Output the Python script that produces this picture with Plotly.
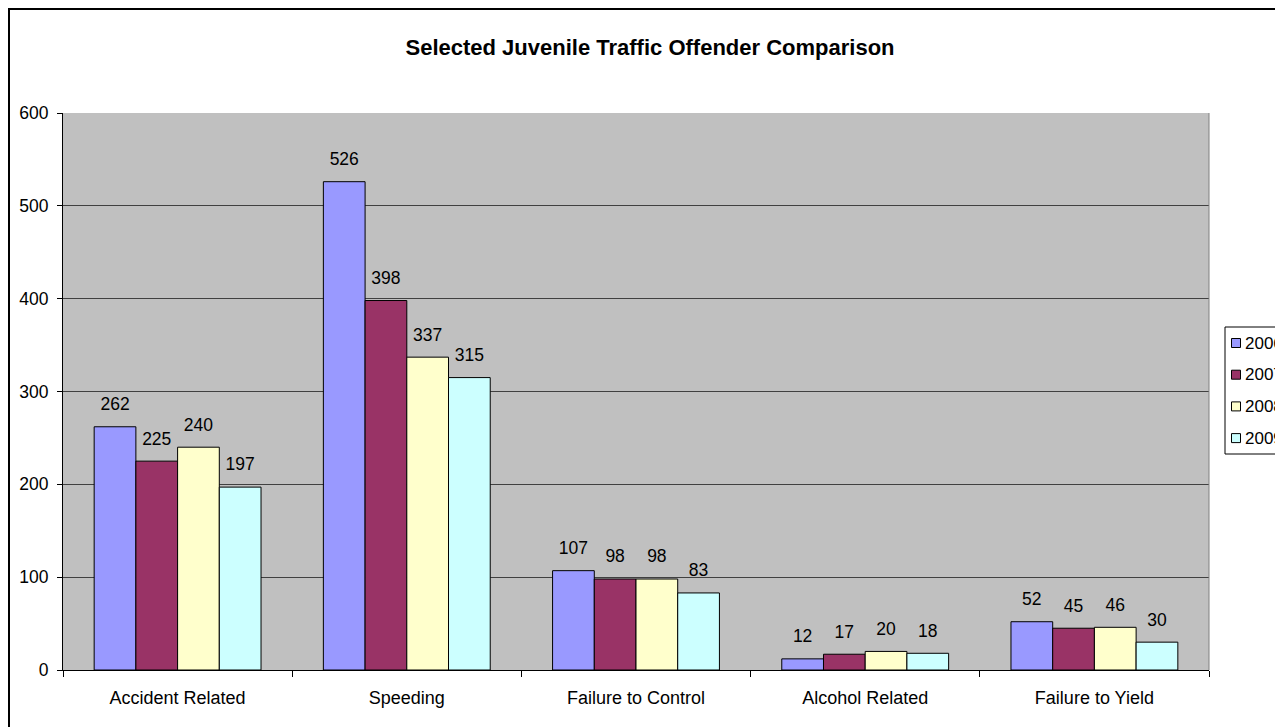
import plotly.graph_objects as go

categories = ["Accident Related", "Speeding", "Failure to Control", "Alcohol Related", "Failure to Yield"]
years = ["2006", "2007", "2008", "2009"]
values_2006 = [262, 526, 107, 12, 52]
values_2007 = [225, 398, 98, 17, 45]
values_2008 = [240, 337, 98, 20, 46]
values_2009 = [197, 315, 83, 18, 30]
series = [values_2006, values_2007, values_2008, values_2009]
colors = ["#9999FF", "#993366", "#FFFFCC", "#CCFFFF"]
y_ticks = [0, 100, 200, 300, 400, 500, 600]

FONT = "Liberation Sans, Arial, sans-serif"
W, H = 1275, 719            # page has an 8px body margin
ML, MR, MT, MB = 55, 74, 105, 57
PW, PH = W - ML - MR, H - MT - MB
GAP = 0.272


def px_x(fx):
    return (fx - ML) / PW


def px_y(fy):
    return 1 - (fy - MT) / PH


fig = go.Figure()
for i, (yr, vals) in enumerate(zip(years, series)):
    fig.add_trace(go.Bar(
        name=yr, x=categories, y=vals,
        marker=dict(color=colors[i], line=dict(color="#000000", width=1)),
        showlegend=False, hoverinfo="x+y+name",
    ))
# data labels: invisible grouped markers carrying the value text
for i, (yr, vals) in enumerate(zip(years, series)):
    fig.add_trace(go.Scatter(
        name=yr, x=categories, y=vals, mode="markers+text",
        marker=dict(size=18, opacity=0, color=colors[i]),
        text=[str(v) for v in vals], textposition="top center",
        textfont=dict(family=FONT, size=17.5, color="#000000"),
        cliponaxis=False, showlegend=False, hoverinfo="skip",
    ))

fig.update_layout(
    width=W, height=H,
    paper_bgcolor="#FFFFFF", plot_bgcolor="#C0C0C0",
    margin=dict(l=ML, r=MR, t=MT, b=MB, autoexpand=False),
    barmode="group", bargap=GAP, bargroupgap=0,
    scattermode="group", scattergap=GAP,
    font=dict(family=FONT, size=17.5, color="#000000"),
    title=dict(text="<b>Selected Juvenile Traffic Offender Comparison</b>",
               x=642 / W, xanchor="center", y=1 - 39 / H, yanchor="middle",
               font=dict(family=FONT, size=22, color="#000000")),
    showlegend=False,
    xaxis=dict(showline=True, linecolor="#000000", linewidth=1,
               ticks="outside", tickson="boundaries", ticklen=6, tickcolor="#000000",
               ticklabelstandoff=11,
               tickfont=dict(family=FONT, size=18, color="#000000"),
               showgrid=False, zeroline=False),
    yaxis=dict(range=[0, 600], tickvals=y_ticks, showline=True, linecolor="#000000", linewidth=1,
               ticks="outside", ticklen=5, tickcolor="#000000",
               ticklabelstandoff=5,
               tickfont=dict(family=FONT, size=17.5, color="#000000"),
               showgrid=True, gridcolor="#404040", gridwidth=1, zeroline=False),
)

# plot area right border (gray)
fig.add_shape(type="line", xref="paper", yref="paper", x0=1, x1=1, y0=0, y1=1,
              line=dict(color="#808080", width=1), layer="above")
# outer chart border (runs off the picture at right/bottom)
fig.add_shape(type="rect", xref="paper", yref="paper",
              x0=px_x(1), x1=px_x(W + 40), y0=px_y(H + 40), y1=px_y(1),
              line=dict(color="#000000", width=2), fillcolor="rgba(0,0,0,0)", layer="above")

# legend box (clipped by the right edge like the reference)
fig.add_shape(type="rect", xref="paper", yref="paper",
              x0=px_x(1217), x1=px_x(W + 40), y0=px_y(446), y1=px_y(319),
              line=dict(color="#000000", width=1), fillcolor="#FFFFFF", layer="above")
for i, yr in enumerate(years):
    cy = 335 + i * 31.7
    fig.add_shape(type="rect", xref="paper", yref="paper",
                  x0=px_x(1223.5), x1=px_x(1232.5), y0=px_y(cy + 4.5), y1=px_y(cy - 4.5),
                  line=dict(color="#000000", width=1), fillcolor=colors[i], layer="above")
    fig.add_annotation(xref="paper", yref="paper", x=px_x(1235), y=px_y(cy),
                       xanchor="left", yanchor="middle", text=yr, showarrow=False,
                       font=dict(family=FONT, size=17, color="#000000"))

fig.write_html("out.html")
